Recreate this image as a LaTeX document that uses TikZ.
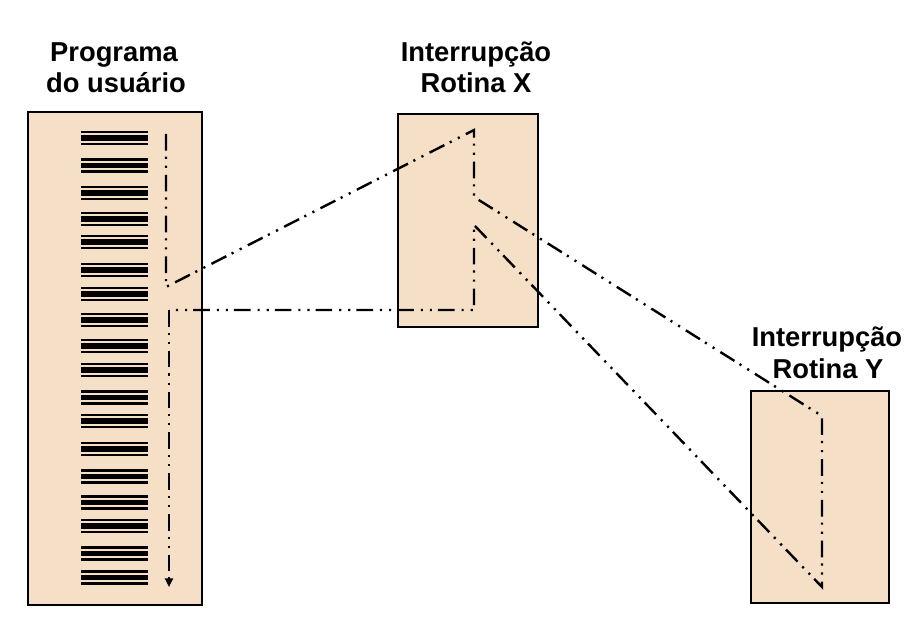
\documentclass[tikz,border=0pt]{standalone}
\usepackage{fontspec}
\setmainfont{Liberation Sans}
\usetikzlibrary{arrows.meta}
\definecolor{peach}{RGB}{246,223,199}
\begin{document}
\begin{tikzpicture}[x=0.75pt,y=-0.75pt,
  box/.style={draw=black, fill=peach, line width=1.5pt},
  flow/.style={line width=1.8pt, dash pattern=on 12.5pt off 4.5pt on 1.6pt off 5.2pt on 1.6pt off 5.2pt},
  lbl/.style={font=\bfseries\fontsize{20.5}{24}\selectfont, inner sep=0pt, anchor=base},
  thinbar/.style={line width=1.7pt},
  thickbar/.style={line width=3.8pt}]
\useasboundingbox (0,0) rectangle (924,627);

% boxes
\draw[box] (28,112) rectangle (202,605);
\draw[box] (398,114) rectangle (538,327);
\draw[box] (751,391) rectangle (889,603);

% labels
\node[lbl] (progA) at (114,62) {Programa};
\node[lbl] (progB) at (116,93) {do usuário};
\node[lbl] (xA) at (476,62) {Interrupção};
\node[lbl] (xB) at (476,93) {Rotina X};
\node[lbl] (yA) at (827,346) {Interrupção};
\node[lbl] (yB) at (828,378) {Rotina Y};

% instruction bars
\foreach \c in {138,165.5,193,219,242,270,294,320,346,370,397.5,421,449,476.5,502.5,526,553.5,577.5}{
  \draw[thinbar] (81,\c-6) -- (148,\c-6);
  \draw[thickbar] (81,\c) -- (148,\c);
  \draw[thinbar] (81,\c+6) -- (148,\c+6);
}

% flow path
\coordinate (p1) at (166,134);
\coordinate (p2) at (166,287);
\coordinate (x1) at (474,130);
\coordinate (x2) at (474,197);
\coordinate (y1) at (822,416);
\coordinate (y2) at (822,587);
\coordinate (x3) at (474,225);
\coordinate (x4) at (474,310);
\coordinate (p3) at (169,310);
\coordinate (p4) at (169,587);
\draw[flow] (p1) -- (p2) -- (x1) -- (x2) -- (y1) -- (y2) -- (x3) -- (x4) -- (p3);
\draw[flow, -{Triangle[length=6.5pt,width=6pt]}] (p3) -- (p4);
\end{tikzpicture}
\end{document}
